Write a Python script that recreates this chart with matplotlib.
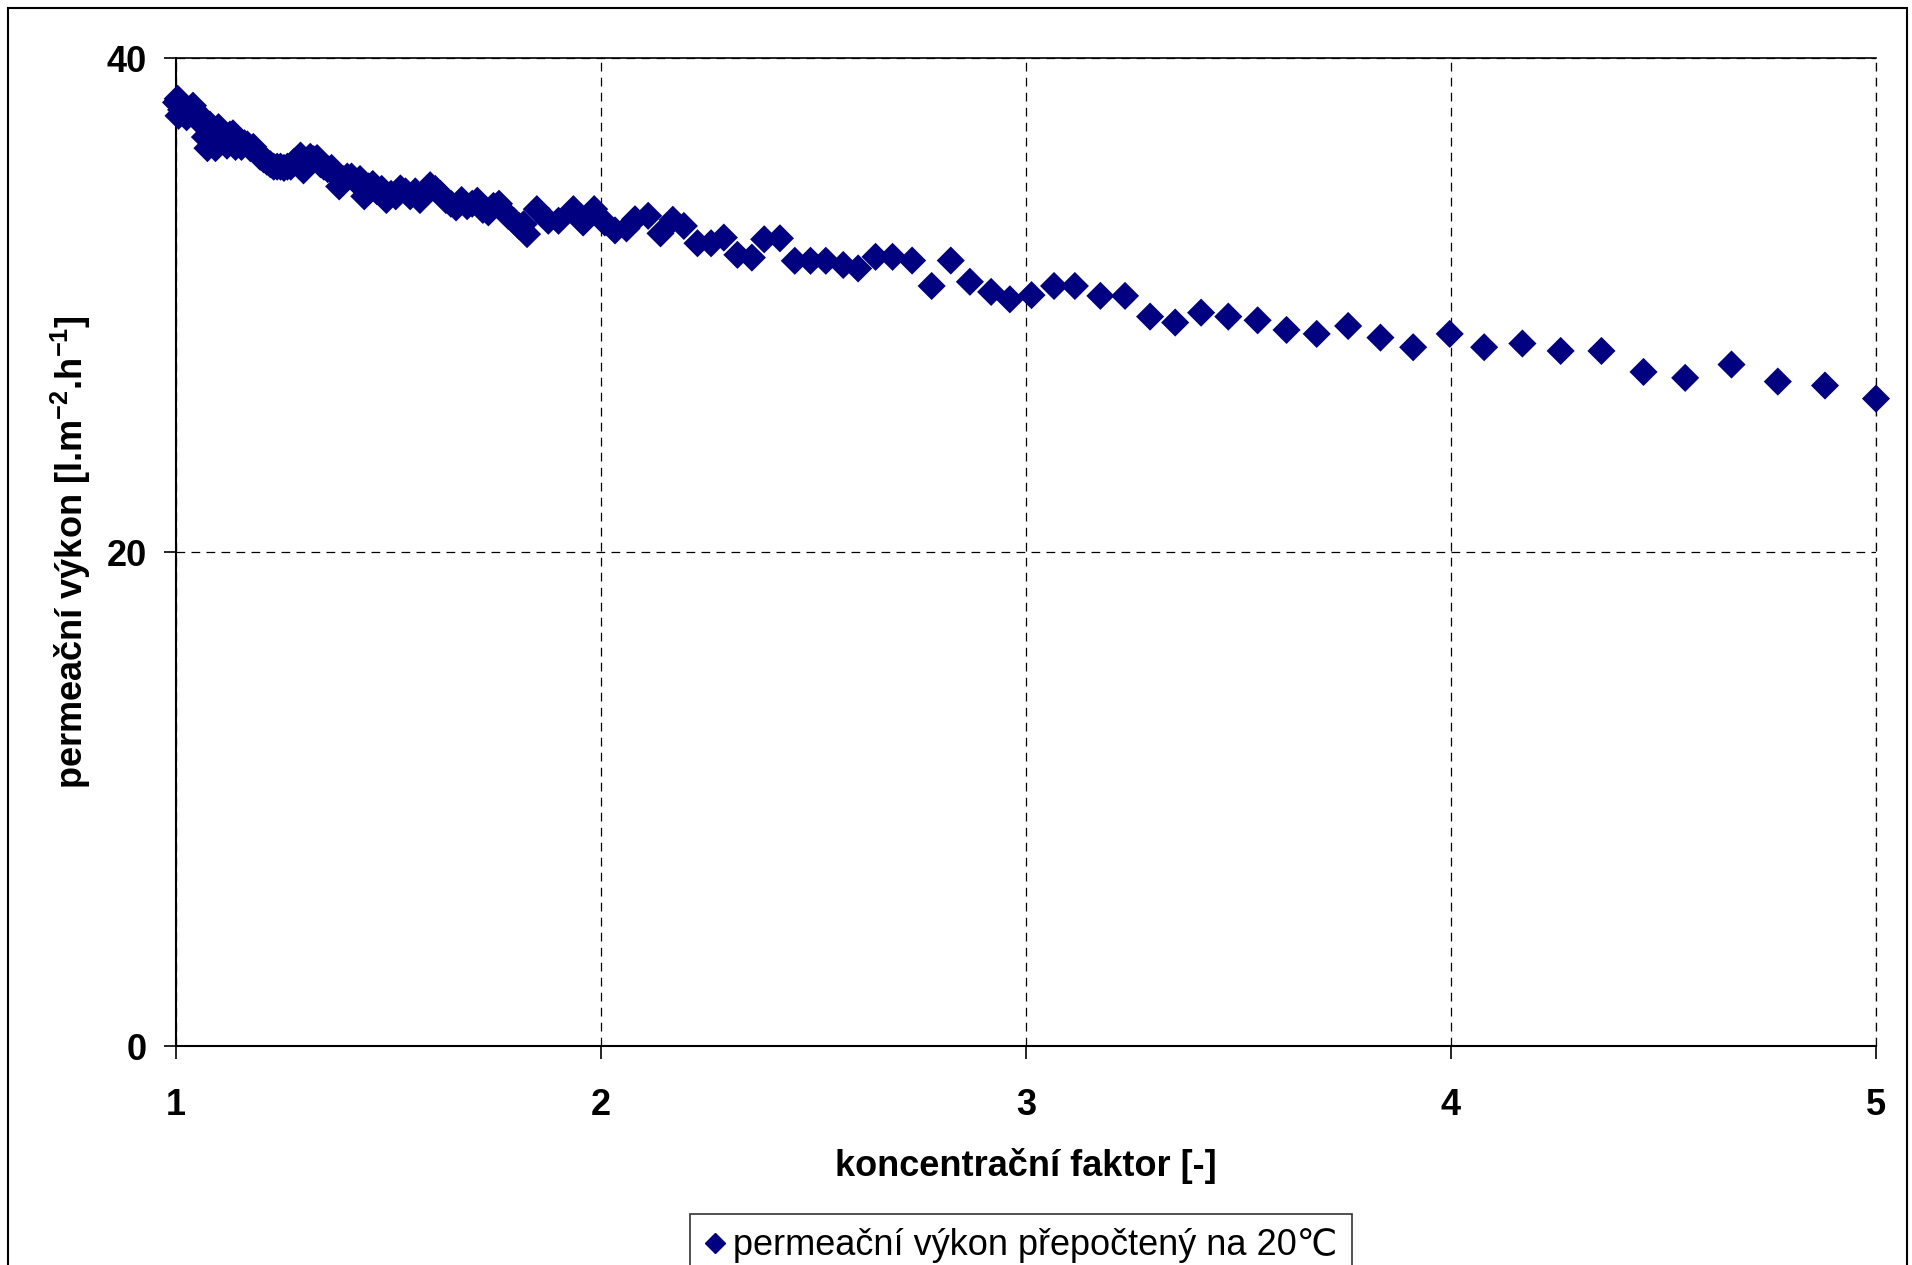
import matplotlib
matplotlib.use('Agg')
import matplotlib.pyplot as plt
from matplotlib.patches import Rectangle
from matplotlib.lines import Line2D

plt.rcParams['font.family'] = ['Liberation Sans', 'DejaVu Sans']
plt.rcParams['mathtext.fontset'] = 'custom'
plt.rcParams['mathtext.rm'] = 'Liberation Sans:bold'
plt.rcParams['mathtext.bf'] = 'Liberation Sans:bold'

# ---- data ----
koncentracni_faktor = [
    1.000, 1.004, 1.006, 1.012, 1.018, 1.025, 1.032, 1.040, 1.048, 1.055,
    1.062, 1.068, 1.074, 1.080, 1.087, 1.093, 1.100, 1.107, 1.114, 1.120,
    1.127, 1.134, 1.140, 1.147, 1.154, 1.161, 1.168, 1.175, 1.182, 1.190,
    1.198, 1.206, 1.214, 1.222, 1.230, 1.238, 1.246, 1.254, 1.262, 1.270,
    1.278, 1.286, 1.293, 1.300, 1.308, 1.316, 1.324, 1.332, 1.340, 1.348,
    1.357, 1.366, 1.375, 1.384, 1.393, 1.403, 1.413, 1.423, 1.433, 1.443,
    1.453, 1.463, 1.473, 1.484, 1.495, 1.506, 1.517, 1.528, 1.540, 1.551,
    1.563, 1.574, 1.586, 1.598, 1.610, 1.622, 1.635, 1.647, 1.659, 1.672,
    1.685, 1.697, 1.709, 1.722, 1.735, 1.747, 1.760, 1.771, 1.782, 1.795,
    1.807, 1.818, 1.826, 1.849, 1.876, 1.900, 1.935, 1.958, 1.984, 2.009,
    2.033, 2.060, 2.080, 2.111, 2.140, 2.169, 2.195, 2.227, 2.259, 2.289,
    2.321, 2.355, 2.384, 2.421, 2.456, 2.493, 2.529, 2.570, 2.605, 2.646,
    2.686, 2.732, 2.778, 2.823, 2.868, 2.918, 2.962, 3.013, 3.066, 3.115,
    3.175, 3.233, 3.292, 3.351, 3.412, 3.476, 3.545, 3.613, 3.684, 3.758,
    3.834, 3.911, 3.997, 4.078, 4.168, 4.258, 4.354, 4.453, 4.551, 4.660,
    4.769, 4.880, 5.000,
]
permeacni_vykon = [
    38.20, 38.35, 37.66, 37.90, 38.00, 37.60, 37.85, 38.07, 37.55, 37.70,
    37.45, 36.80, 36.35, 37.30, 36.90, 36.35, 37.20, 37.00, 36.60, 36.45,
    36.90, 36.95, 36.40, 36.70, 36.40, 36.55, 36.50, 36.35, 36.40, 36.20,
    36.00, 35.90, 35.80, 35.70, 35.60, 35.60, 35.60, 35.55, 35.60, 35.60,
    35.80, 35.90, 36.05, 35.45, 35.70, 36.00, 35.90, 35.95, 35.70, 35.60,
    35.50, 35.55, 35.30, 34.80, 35.10, 35.20, 35.20, 35.00, 35.10, 34.40,
    34.80, 34.90, 34.60, 34.70, 34.25, 34.50, 34.40, 34.72, 34.60, 34.40,
    34.60, 34.25, 34.50, 34.85, 34.70, 34.50, 34.25, 34.10, 33.95, 34.25,
    34.00, 34.10, 34.22, 33.85, 33.75, 34.01, 34.10, 33.80, 33.60, 33.40,
    33.20, 33.27, 32.87, 33.88, 33.41, 33.41, 33.88, 33.34, 33.88, 33.34,
    33.02, 33.10, 33.47, 33.61, 32.90, 33.45, 33.20, 32.50, 32.50, 32.73,
    32.03, 31.92, 32.66, 32.70, 31.79, 31.79, 31.79, 31.62, 31.48, 31.95,
    31.95, 31.80, 30.77, 31.80, 30.94, 30.53, 30.23, 30.40, 30.77, 30.77,
    30.37, 30.37, 29.53, 29.29, 29.69, 29.53, 29.38, 28.99, 28.83, 29.15,
    28.68, 28.29, 28.83, 28.29, 28.44, 28.14, 28.14, 27.29, 27.05, 27.59,
    26.90, 26.74, 26.21,
]
x_ticks = [1, 2, 3, 4, 5]
y_ticks = [0, 20, 40]
x_label = 'koncentrační faktor [-]'
y_label = r'permeační výkon [l.m$^{\mathregular{-2}}$.h$^{\mathregular{-1}}$]'
series_label = 'permeační výkon přepočtený na 20℃'

W, H = 1912, 1265
fig = plt.figure(figsize=(W / 100, H / 100), dpi=100)
fig.patch.set_facecolor('white')

# outer chart border
fig.patches.append(Rectangle((8 / W, -0.2), (1907 - 8) / W, 1.2 - 8 / H,
                             transform=fig.transFigure, fill=False,
                             edgecolor='black', linewidth=1.5, zorder=0))

ax = fig.add_axes([176 / W, 1 - 1046 / H, (1876 - 176) / W, (1046 - 58) / H])
ax.set_xlim(1, 5)
ax.set_ylim(0, 40)

ax.scatter(koncentracni_faktor, permeacni_vykon, marker='D', s=205,
           color='#000080', edgecolors='none', clip_on=False, zorder=3,
           label=series_label)

ax.set_xticks(x_ticks)
ax.set_yticks(y_ticks)
ax.set_xticklabels([str(v) for v in x_ticks], fontsize=26, fontweight='bold')
ax.set_yticklabels([str(v) for v in y_ticks], fontsize=26, fontweight='bold')
ax.tick_params(axis='x', direction='out', length=9, width=1.2, pad=21)
ax.tick_params(axis='y', direction='out', length=9, width=1.2, pad=12)

ax.grid(True, linestyle=(0, (7, 5)), color='black', linewidth=0.9)
ax.set_axisbelow(True)
# right-most vertical gridline (would be half-clipped at the axes edge)
ax.axvline(x_ticks[-1], linestyle=(0, (7, 5)), color='black', linewidth=0.9,
           clip_on=False, zorder=1)

for s in ['left', 'bottom']:
    ax.spines[s].set_linewidth(1.5)
    ax.spines[s].set_color('black')
ax.spines['top'].set_linewidth(1.2)
ax.spines['top'].set_color('black')
ax.spines['right'].set_visible(False)

ax.set_xlabel(x_label, fontsize=26, fontweight='bold')
ax.xaxis.set_label_coords(0.5, -0.103)
ax.xaxis.label.set_va('top')
ax.set_ylabel(y_label, fontsize=26, fontweight='bold')
ax.yaxis.set_label_coords(-0.062, 0.5)
ax.yaxis.label.set_va('center')

handle = Line2D([], [], marker='D', linestyle='none', color='#000080',
                markersize=10)
leg = fig.legend([handle], [series_label], loc='upper left',
                 bbox_to_anchor=(690 / W, 1 - 1214 / H),
                 prop={'size': 26}, frameon=True, fancybox=False,
                 handlelength=0.6, handletextpad=0.2, borderpad=0.4,
                 borderaxespad=0)
leg.get_frame().set_edgecolor('black')
leg.get_frame().set_linewidth(1.2)

fig.savefig('out.png', dpi=100, facecolor='white')
